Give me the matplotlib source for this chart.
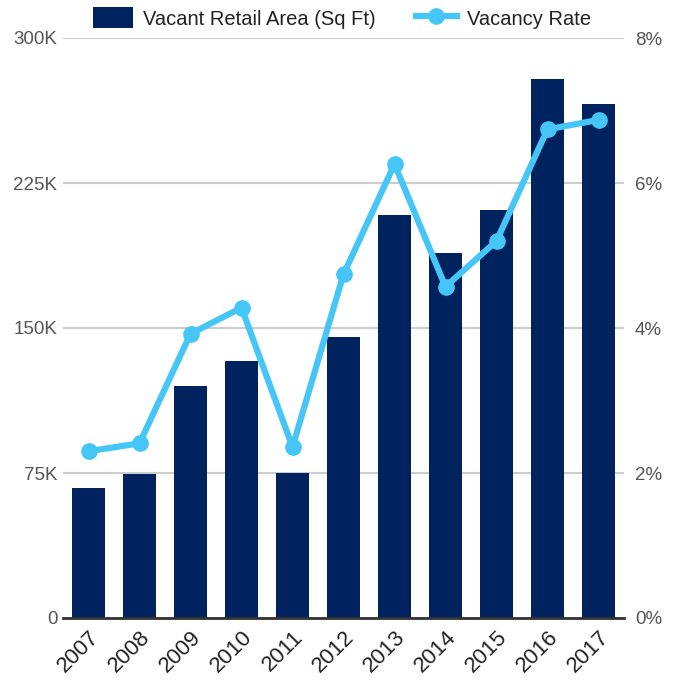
import matplotlib
matplotlib.use("Agg")
import matplotlib.pyplot as plt
from matplotlib.ticker import FixedLocator
from matplotlib.lines import Line2D
from matplotlib.patches import Patch

plt.rcParams['font.family'] = ['Liberation Sans', 'DejaVu Sans']

years = ["2007", "2008", "2009", "2010", "2011", "2012", "2013", "2014", "2015", "2016", "2017"]
vacant_area = [67.2, 74.5, 120, 133, 75, 145.4, 208.5, 188.8, 211, 278.8, 265.9]  # thousands sq ft
vacancy_rate = [2.30, 2.41, 3.92, 4.28, 2.36, 4.74, 6.26, 4.57, 5.20, 6.74, 6.87]  # percent

left_ticks = [0, 75, 150, 225, 300]
left_labels = ["0", "75K", "150K", "225K", "300K"]
right_ticks = [0, 2, 4, 6, 8]
right_labels = ["0%", "2%", "4%", "6%", "8%"]

bar_color = "#002360"
line_color = "#45c6f7"
text_color = "#555555"

fig = plt.figure(figsize=(6.81, 6.88), dpi=100)
ax = fig.add_axes([63/681, 1-618/688, (624-63)/681, (618-38)/688])
x = list(range(len(years)))
ax.bar(x, vacant_area, width=0.63, color=bar_color, zorder=2)
ax.set_ylim(0, 300)
ax.set_xlim(-0.5, len(years)-0.5)
ax.yaxis.set_major_locator(FixedLocator(left_ticks))
ax.set_yticklabels(left_labels)
ax.set_xticks(x)
ax.set_xticklabels(years, rotation=45, ha="right", rotation_mode="anchor")
ax.grid(axis="y", color="#cccccc", linewidth=1.5, zorder=0)
for s in ["top", "left", "right"]:
    ax.spines[s].set_visible(False)
ax.spines["bottom"].set_color("#333333")
ax.spines["bottom"].set_linewidth(2)
ax.spines["bottom"].set_zorder(5)
ax.tick_params(axis="both", length=0, labelsize=13.5, labelcolor=text_color)
ax.tick_params(axis="y", pad=4)
ax.tick_params(axis="x", pad=6, labelsize=16, labelcolor="#222222")

ax2 = ax.twinx()
ax2.plot(x, vacancy_rate, color=line_color, linewidth=4.5, marker="o", markersize=11, zorder=3)
ax2.set_ylim(0, 8)
ax2.yaxis.set_major_locator(FixedLocator(right_ticks))
ax2.set_yticklabels(right_labels)
for s in ["top", "left", "right", "bottom"]:
    ax2.spines[s].set_visible(False)
ax2.tick_params(axis="y", length=0, labelsize=13.5, labelcolor=text_color, pad=8)

handles = [Patch(facecolor=bar_color, label="Vacant Retail Area (Sq Ft)"),
           Line2D([0], [0], color=line_color, linewidth=4.5, marker="o", markersize=11, label="Vacancy Rate")]
fig.legend(handles=handles, loc="center", bbox_to_anchor=(0.502, 1-18/688), ncol=2, frameon=False,
           fontsize=14.5, handlelength=2.0, handleheight=1.2, columnspacing=2.0, handletextpad=0.5,
           labelcolor="#222222")

fig.savefig("out.png", dpi=100)
